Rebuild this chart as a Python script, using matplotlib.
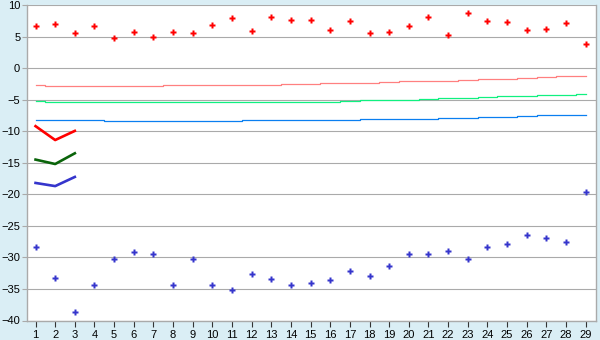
import matplotlib
matplotlib.use("Agg")
import matplotlib.pyplot as plt
import numpy as np

# categories along the x axis
days = list(range(1, 30))

# scattered readings
upper_points = [6.6, 7.0, 5.5, 6.6, 4.7, 5.7, 4.9, 5.7, 5.5, 6.8,
                7.9, 5.9, 8.1, 7.6, 7.6, 6.0, 7.5, 5.5, 5.7, 6.6,
                8.1, 5.2, 8.7, 7.5, 7.3, 6.0, 6.2, 7.1, 3.8]
lower_points = [-28.4, -33.2, -38.6, -34.4, -30.2, -29.2, -29.4, -34.3, -30.3, -34.4,
                -35.2, -32.7, -33.5, -34.4, -34.0, -33.6, -32.1, -33.0, -31.3, -29.5,
                -29.5, -29.0, -30.2, -28.3, -27.8, -26.4, -27.0, -27.5, -19.6]

# slowly moving reference levels
pink_level = [-2.70, -2.86, -2.86, -2.86, -2.86, -2.86, -2.86, -2.70, -2.70, -2.70,
              -2.70, -2.70, -2.70, -2.54, -2.54, -2.38, -2.38, -2.38, -2.22, -2.06,
              -2.06, -2.06, -1.90, -1.75, -1.75, -1.59, -1.43, -1.27, -1.27]
green_level = [-5.24, -5.40, -5.40, -5.40, -5.40, -5.40, -5.40, -5.40, -5.40, -5.40,
               -5.40, -5.40, -5.40, -5.40, -5.40, -5.40, -5.24, -5.08, -5.08, -5.08,
               -4.92, -4.76, -4.76, -4.60, -4.44, -4.44, -4.29, -4.29, -4.13]
blue_level = [-8.25, -8.25, -8.25, -8.25, -8.41, -8.41, -8.41, -8.41, -8.41, -8.41,
              -8.41, -8.25, -8.25, -8.25, -8.25, -8.25, -8.25, -8.10, -8.10, -8.10,
              -8.10, -7.94, -7.94, -7.78, -7.78, -7.62, -7.46, -7.46, -7.46]

# short traces over the first three days
short_days = [1, 2, 3]
red_trace = [-9.2, -11.4, -9.95]
dark_green_trace = [-14.5, -15.2, -13.5]
blue_trace = [-18.2, -18.7, -17.25]

y_ticks = list(range(-40, 11, 5))

BG = "#daeef5"
GRID = "#aaaaaa"


def main():
    fig = plt.figure(figsize=(6.0, 3.4), dpi=100, facecolor=BG)
    ax = fig.add_axes([26.5 / 600, 1 - 320.5 / 340, 569 / 600, 315.5 / 340])
    ax.set_facecolor("white")

    for y in y_ticks:
        ax.axhline(y, color=GRID, lw=0.8, zorder=1)

    ax.plot(days, pink_level, color="#ff8080", lw=0.9, drawstyle="steps-mid", zorder=2)
    ax.plot(days, green_level, color="#10f080", lw=0.9, drawstyle="steps-mid", zorder=2)
    ax.plot(days, blue_level, color="#0a7ff0", lw=0.9, drawstyle="steps-mid", zorder=2)

    ax.plot(short_days, red_trace, color="#ff0000", lw=1.9, zorder=3)
    ax.plot(short_days, dark_green_trace, color="#0a640a", lw=1.9, zorder=3)
    ax.plot(short_days, blue_trace, color="#3535cc", lw=1.9, zorder=3)

    ax.plot(days, upper_points, ls="none", marker="P", ms=4.6, color="#ff0000",
            mec="none", zorder=4)
    ax.plot(days, lower_points, ls="none", marker="P", ms=4.6, color="#3535cc",
            mec="none", zorder=4)

    ax.set_xlim(0.54, 29.5)
    ax.set_ylim(-40, 10)
    ax.set_xticks(days)
    ax.set_yticks(y_ticks)

    for side in ["left", "right", "bottom"]:
        ax.spines[side].set_color(GRID)
        ax.spines[side].set_linewidth(1.0)
    ax.spines["top"].set_visible(False)

    ax.tick_params(axis="y", length=3.5, width=0.8, color=GRID, pad=1,
                   labelsize=8)
    ax.tick_params(axis="x", length=4.5, width=0.8, color="#333333", pad=2,
                   labelsize=8)
    for lab in ax.get_xticklabels() + ax.get_yticklabels():
        lab.set_fontfamily("Liberation Sans")

    fig.savefig("out.png", dpi=100, facecolor=BG)


if __name__ == "__main__":
    main()
